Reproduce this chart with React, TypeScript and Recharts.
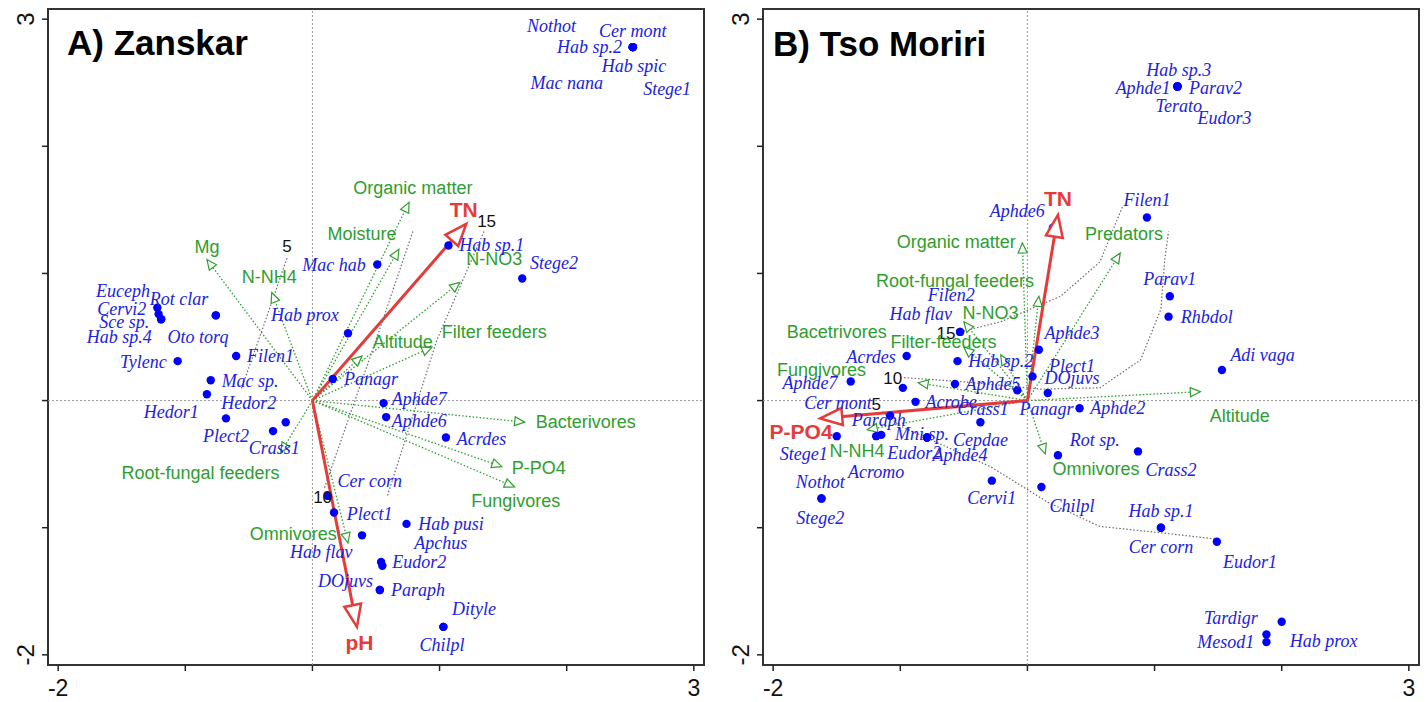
import React from 'react';
import { ScatterChart, Scatter, XAxis, YAxis, ReferenceLine, ReferenceArea } from 'recharts';

// ---------- shared axis setup ----------
const DOMAIN: [number, number] = [-2.08, 3.08];
const AXIS_TICKS = [-2, -1, 0, 1, 2, 3];
const LABELLED_TICKS = [-2, 3];
const TITLES = ['A) Zanskar', 'B) Tso Moriri'];

type Sp = { name: string; x: number; y: number; lx: number; ly: number };
type Pt = { x: number; y: number };

// ---------- Panel A: Zanskar ----------
const zanskarSpecies: Sp[] = [
  { name: 'Nothot', x: 2.52, y: 2.78, lx: 1.88, ly: 2.95 },
  { name: 'Cer mont', x: 2.52, y: 2.78, lx: 2.52, ly: 2.91 },
  { name: 'Hab sp.2', x: 2.52, y: 2.78, lx: 2.18, ly: 2.78 },
  { name: 'Hab spic', x: 2.52, y: 2.78, lx: 2.53, ly: 2.63 },
  { name: 'Mac nana', x: 2.52, y: 2.78, lx: 2.0, ly: 2.5 },
  { name: 'Stege1', x: 2.52, y: 2.78, lx: 2.79, ly: 2.45 },
  { name: 'Hab sp.1', x: 1.07, y: 1.22, lx: 1.41, ly: 1.22 },
  { name: 'Stege2', x: 1.65, y: 0.96, lx: 1.9, ly: 1.08 },
  { name: 'Mac hab', x: 0.51, y: 1.07, lx: 0.17, ly: 1.07 },
  { name: 'Hab prox', x: 0.28, y: 0.53, lx: -0.06, ly: 0.67 },
  { name: 'Panagr', x: 0.16, y: 0.17, lx: 0.46, ly: 0.17 },
  { name: 'Aphde7', x: 0.56, y: -0.02, lx: 0.84, ly: 0.01 },
  { name: 'Aphde6', x: 0.58, y: -0.13, lx: 0.84, ly: -0.16 },
  { name: 'Acrdes', x: 1.05, y: -0.29, lx: 1.33, ly: -0.3 },
  { name: 'Cer corn', x: 0.12, y: -0.75, lx: 0.45, ly: -0.63 },
  { name: 'Plect1', x: 0.17, y: -0.88, lx: 0.45, ly: -0.89 },
  { name: 'Hab flav', x: 0.39, y: -1.06, lx: 0.07, ly: -1.19 },
  { name: 'Hab pusi', x: 0.74, y: -0.97, lx: 1.09, ly: -0.97 },
  { name: 'Apchus', x: 0.54, y: -1.27, lx: 1.01, ly: -1.12 },
  { name: 'Eudor2', x: 0.55, y: -1.3, lx: 0.84, ly: -1.27 },
  { name: 'DOjuvs', x: 0.53, y: -1.49, lx: 0.26, ly: -1.42 },
  { name: 'Paraph', x: 0.53, y: -1.49, lx: 0.83, ly: -1.49 },
  { name: 'Dityle', x: 1.03, y: -1.78, lx: 1.27, ly: -1.64 },
  { name: 'Chilpl', x: 1.03, y: -1.78, lx: 1.02, ly: -1.92 },
  { name: 'Euceph', x: -1.22, y: 0.73, lx: -1.49, ly: 0.86 },
  { name: 'Cervi2', x: -1.21, y: 0.68, lx: -1.5, ly: 0.72 },
  { name: 'Sce sp.', x: -1.19, y: 0.64, lx: -1.48, ly: 0.62 },
  { name: 'Hab sp.4', x: -1.19, y: 0.64, lx: -1.52, ly: 0.5 },
  { name: 'Rot clar', x: -0.76, y: 0.67, lx: -1.05, ly: 0.8 },
  { name: 'Oto torq', x: -0.76, y: 0.67, lx: -0.9, ly: 0.5 },
  { name: 'Tylenc', x: -1.06, y: 0.31, lx: -1.33, ly: 0.3 },
  { name: 'Filen1', x: -0.6, y: 0.35, lx: -0.33, ly: 0.35 },
  { name: 'Mac sp.', x: -0.8, y: 0.16, lx: -0.49, ly: 0.15 },
  { name: 'Hedor1', x: -0.83, y: 0.05, lx: -1.11, ly: -0.09 },
  { name: 'Hedor2', x: -0.68, y: -0.14, lx: -0.5, ly: -0.02 },
  { name: 'Plect2', x: -0.31, y: -0.24, lx: -0.68, ly: -0.28 },
  { name: 'Crass1', x: -0.21, y: -0.17, lx: -0.3, ly: -0.37 },
];

const zanskarEnv: Sp[] = [
  { name: 'Mg', x: -0.83, y: 1.11, lx: -0.83, ly: 1.21 },
  { name: 'N-NH4', x: -0.32, y: 0.85, lx: -0.34, ly: 0.97 },
  { name: 'Moisture', x: 0.68, y: 1.19, lx: 0.39, ly: 1.31 },
  { name: 'Organic matter', x: 0.76, y: 1.56, lx: 0.79, ly: 1.67 },
  { name: 'N-NO3', x: 1.16, y: 0.93, lx: 1.43, ly: 1.11 },
  { name: 'Filter feeders', x: 0.94, y: 0.42, lx: 1.43, ly: 0.54 },
  { name: 'Altitude', x: 0.39, y: 0.35, lx: 0.71, ly: 0.46 },
  { name: 'Bacterivores', x: 1.67, y: -0.17, lx: 2.15, ly: -0.17 },
  { name: 'P-PO4', x: 1.49, y: -0.52, lx: 1.78, ly: -0.53 },
  { name: 'Fungivores', x: 1.59, y: -0.68, lx: 1.6, ly: -0.79 },
  { name: 'Omnivores', x: 0.28, y: -1.12, lx: -0.15, ly: -1.05 },
  { name: 'Root-fungal feeders', x: -0.25, y: -0.41, lx: -0.88, ly: -0.57 },
];

const zanskarKey: Sp[] = [
  { name: 'TN', x: 1.21, y: 1.39, lx: 1.19, ly: 1.5 },
  { name: 'pH', x: 0.35, y: -1.78, lx: 0.37, ly: -1.9 },
];

const zanskarIso5: Pt[] = [
  { x: -0.2, y: 1.12 },
  { x: -0.38, y: 0.6 },
  { x: -0.56, y: 0.09 },
];
const zanskarIso10: Pt[] = [
  { x: 0.79, y: 1.33 },
  { x: 0.45, y: 0.33 },
  { x: 0.09, y: -0.7 },
];
const zanskarIso15: Pt[] = [
  { x: 1.35, y: 1.33 },
  { x: 1.21, y: 1.01 },
  { x: 0.98, y: 0.48 },
  { x: 0.59, y: -0.75 },
];
const zanskarIsoLabels = [
  { name: '5', x: -0.2, y: 1.21 },
  { name: '10', x: 0.08, y: -0.76 },
  { name: '15', x: 1.37, y: 1.41 },
];

// ---------- Panel B: Tso Moriri ----------
const tsoSpecies: Sp[] = [
  { name: 'Hab sp.3', x: 1.18, y: 2.47, lx: 1.19, ly: 2.6 },
  { name: 'Aphde1', x: 1.18, y: 2.47, lx: 0.91, ly: 2.46 },
  { name: 'Parav2', x: 1.18, y: 2.47, lx: 1.48, ly: 2.46 },
  { name: 'Terato', x: 1.18, y: 2.47, lx: 1.19, ly: 2.32 },
  { name: 'Eudor3', x: 1.18, y: 2.47, lx: 1.55, ly: 2.22 },
  { name: 'Filen1', x: 0.94, y: 1.44, lx: 0.94, ly: 1.58 },
  { name: 'Parav1', x: 1.12, y: 0.82, lx: 1.12, ly: 0.96 },
  { name: 'Rhbdol', x: 1.11, y: 0.66, lx: 1.41, ly: 0.66 },
  { name: 'Adi vaga', x: 1.53, y: 0.24, lx: 1.85, ly: 0.36 },
  { name: 'Aphde2', x: 0.41, y: -0.06, lx: 0.71, ly: -0.06 },
  { name: 'Rot sp.', x: 0.24, y: -0.43, lx: 0.53, ly: -0.31 },
  { name: 'Crass2', x: 0.87, y: -0.4, lx: 1.13, ly: -0.55 },
  { name: 'Chilpl', x: 0.11, y: -0.68, lx: 0.35, ly: -0.83 },
  { name: 'Hab sp.1', x: 1.05, y: -1.0, lx: 1.05, ly: -0.87 },
  { name: 'Cer corn', x: 1.05, y: -1.0, lx: 1.05, ly: -1.15 },
  { name: 'Eudor1', x: 1.49, y: -1.11, lx: 1.75, ly: -1.27 },
  { name: 'Tardigr', x: 2.0, y: -1.74, lx: 1.6, ly: -1.71 },
  { name: 'Mesod1', x: 1.88, y: -1.84, lx: 1.56, ly: -1.9 },
  { name: 'Hab prox', x: 1.88, y: -1.9, lx: 2.33, ly: -1.89 },
  { name: 'Aphde3', x: 0.09, y: 0.4, lx: 0.35, ly: 0.53 },
  { name: 'Plect1', x: 0.04, y: 0.19, lx: 0.35, ly: 0.27 },
  { name: 'DOjuvs', x: 0.16, y: 0.06, lx: 0.35, ly: 0.18 },
  { name: 'Panagr', x: -0.08, y: 0.08, lx: 0.15, ly: -0.07 },
  { name: 'Aphde5', x: -0.57, y: 0.13, lx: -0.27, ly: 0.13 },
  { name: 'Hab sp.2', x: -0.55, y: 0.31, lx: -0.21, ly: 0.31 },
  { name: 'Crass1', x: -0.37, y: -0.17, lx: -0.35, ly: -0.07 },
  { name: 'Acrobe', x: -0.88, y: -0.01, lx: -0.6, ly: -0.01 },
  { name: 'Cepdae', x: -0.79, y: -0.29, lx: -0.37, ly: -0.31 },
  { name: 'Mni sp.', x: -0.79, y: -0.29, lx: -0.83, ly: -0.26 },
  { name: 'Aphde4', x: -0.79, y: -0.29, lx: -0.53, ly: -0.43 },
  { name: 'Cervi1', x: -0.28, y: -0.63, lx: -0.28, ly: -0.77 },
  { name: 'Eudor2', x: -1.19, y: -0.28, lx: -0.89, ly: -0.41 },
  { name: 'Acrdes', x: -0.95, y: 0.35, lx: -1.23, ly: 0.34 },
  { name: 'Aphde7', x: -1.39, y: 0.15, lx: -1.71, ly: 0.14 },
  { name: 'Aphde6', x: 0.2, y: 1.36, lx: -0.08, ly: 1.49 },
  { name: 'Filen2', x: -0.53, y: 0.54, lx: -0.6, ly: 0.83 },
  { name: 'Hab flav', x: -0.53, y: 0.54, lx: -0.84, ly: 0.68 },
  { name: 'Cer mont', x: -0.98, y: 0.1, lx: -1.49, ly: -0.02 },
  { name: 'Paraph', x: -1.08, y: -0.12, lx: -1.17, ly: -0.15 },
  { name: 'Stege1', x: -1.5, y: -0.28, lx: -1.76, ly: -0.42 },
  { name: 'Acromo', x: -1.15, y: -0.27, lx: -1.19, ly: -0.56 },
  { name: 'Nothot', x: -1.62, y: -0.77, lx: -1.63, ly: -0.64 },
  { name: 'Stege2', x: -1.62, y: -0.77, lx: -1.63, ly: -0.92 },
];

const tsoEnv: Sp[] = [
  { name: 'Organic matter', x: -0.04, y: 1.24, lx: -0.56, ly: 1.25 },
  { name: 'Root-fungal feeders', x: 0.09, y: 0.82, lx: -0.57, ly: 0.94 },
  { name: 'N-NO3', x: -0.5, y: 0.62, lx: -0.29, ly: 0.69 },
  { name: 'Filter-feeders', x: -0.21, y: 0.36, lx: -0.66, ly: 0.46 },
  { name: 'Bacetrivores', x: -0.5, y: 0.42, lx: -1.5, ly: 0.54 },
  { name: 'Fungivores', x: -0.86, y: 0.14, lx: -1.62, ly: 0.24 },
  { name: 'N-NH4', x: -1.26, y: -0.23, lx: -1.34, ly: -0.4 },
  { name: 'Omnivores', x: 0.14, y: -0.42, lx: 0.54, ly: -0.54 },
  { name: 'Altitude', x: 1.36, y: 0.07, lx: 1.67, ly: -0.12 },
  { name: 'Predators', x: 0.73, y: 1.16, lx: 0.76, ly: 1.31 },
];

const tsoKey: Sp[] = [
  { name: 'TN', x: 0.24, y: 1.46, lx: 0.24, ly: 1.59 },
  { name: 'P-PO4', x: -1.63, y: -0.14, lx: -1.78, ly: -0.24 },
];

const tsoIso15: Pt[] = [
  { x: -0.53, y: 0.54 },
  { x: -0.21, y: 0.62 },
  { x: 0.26, y: 0.82 },
  { x: 0.57, y: 1.09 },
  { x: 0.75, y: 1.53 },
];
const tsoIso10: Pt[] = [
  { x: -0.97, y: 0.18 },
  { x: -0.53, y: 0.15 },
  { x: 0.1, y: 0.09 },
  { x: 0.57, y: 0.1 },
  { x: 0.89, y: 0.32 },
  { x: 1.05, y: 0.72 },
  { x: 1.08, y: 1.11 },
  { x: 1.11, y: 1.33 },
];
const tsoIso5: Pt[] = [
  { x: -1.14, y: -0.09 },
  { x: -1.0, y: -0.2 },
  { x: -0.29, y: -0.52 },
  { x: 0.16, y: -0.8 },
  { x: 0.57, y: -0.99 },
  { x: 1.05, y: -1.04 },
  { x: 1.49, y: -1.09 },
];
const tsoIsoLabels = [
  { name: '15', x: -0.64, y: 0.53 },
  { name: '10', x: -1.06, y: 0.17 },
  { name: '5', x: -1.19, y: -0.03 },
];

// ---------- styles ----------
const SANS = "'Liberation Sans', Arial, Helvetica, sans-serif";
const SERIF = "'Liberation Serif', 'Times New Roman', serif";
const BLUE_DOT = '#0000ff';
const BLUE_TEXT = '#2222dd';
const GREEN = '#2e9e2e';
const RED = '#e53b3b';
const ISO_GRAY = '#6a6a6a';
const PLOT_PX = 656;
const PX_PER_UNIT = PLOT_PX / (DOMAIN[1] - DOMAIN[0]);

const headPolygon = (cx: number, cy: number, dx: number, dy: number, len: number, half: number) => {
  const n = Math.hypot(dx, dy) || 1;
  const ux = dx / n;
  const uy = -dy / n;
  const bx = cx - len * ux;
  const by = cy - len * uy;
  const px = -uy;
  const py = ux;
  return `${cx},${cy} ${bx + half * px},${by + half * py} ${bx - half * px},${by - half * py}`;
};

const shaftEnd = (s: Sp, headLen: number) => {
  const lenPx = Math.hypot(s.x, s.y) * PX_PER_UNIT;
  const k = Math.max(0, 1 - headLen / lenPx);
  return { x: s.x * k, y: s.y * k };
};

const XTick = (props: any) => {
  const { x, y, payload } = props;
  if (!LABELLED_TICKS.includes(payload.value)) return <g />;
  return (
    <text x={x} y={y + 15} textAnchor="middle" dominantBaseline="central" fontFamily={SANS} fontSize={23} fill="#111">
      {String(payload.value)}
    </text>
  );
};

const YTick = (props: any) => {
  const { x, y, payload } = props;
  if (!LABELLED_TICKS.includes(payload.value)) return <g />;
  const tx = x - 14;
  return (
    <text
      x={tx}
      y={y}
      textAnchor="middle"
      dominantBaseline="central"
      fontFamily={SANS}
      fontSize={24}
      fill="#111"
      transform={`rotate(-90, ${tx}, ${y})`}
    >
      {String(payload.value)}
    </text>
  );
};

const Dot = (p: any) => <circle cx={p.cx} cy={p.cy} r={4.2} fill={BLUE_DOT} />;
const SpeciesText = (p: any) => (
  <text x={p.cx} y={p.cy} textAnchor="middle" dominantBaseline="central" fontFamily={SERIF} fontStyle="italic" fontSize={18} fill={BLUE_TEXT}>
    {p.payload.name}
  </text>
);
const EnvText = (p: any) => (
  <text x={p.cx} y={p.cy} textAnchor="middle" dominantBaseline="central" fontFamily={SANS} fontSize={18} fill={GREEN}>
    {p.payload.name}
  </text>
);
const KeyText = (p: any) => (
  <text x={p.cx} y={p.cy} textAnchor="middle" dominantBaseline="central" fontFamily={SANS} fontWeight="bold" fontSize={21} fill={RED}>
    {p.payload.name}
  </text>
);
const IsoText = (p: any) => (
  <text x={p.cx} y={p.cy} textAnchor="middle" dominantBaseline="central" fontFamily={SANS} fontSize={17} fill="#111">
    {p.payload.name}
  </text>
);
const EnvHead = (p: any) => (
  <polygon points={headPolygon(p.cx, p.cy, p.payload.x, p.payload.y, 10, 4.5)} fill="#fff" stroke={GREEN} strokeWidth={1.2} />
);
const KeyHead = (p: any) => (
  <polygon points={headPolygon(p.cx, p.cy, p.payload.x, p.payload.y, 22, 8.5)} fill="#fff" stroke={RED} strokeWidth={2.5} />
);
const Empty = () => <g />;

type PanelProps = {
  left: number;
  yAxisWidth: number;
  marginRight: number;
  species: Sp[];
  env: Sp[];
  keys: Sp[];
  isolines: Pt[][];
  isoLabels: { name: string; x: number; y: number }[];
};

const Panel = ({ left, yAxisWidth, marginRight, species, env, keys, isolines, isoLabels }: PanelProps) => {
  const speciesLabels = species.map((s) => ({ name: s.name, x: s.lx, y: s.ly }));
  const envLabels = env.map((s) => ({ name: s.name, x: s.lx, y: s.ly }));
  const keyLabels = keys.map((s) => ({ name: s.name, x: s.lx, y: s.ly }));
  return (
    <div style={{ position: 'absolute', left, top: 0 }}>
      <ScatterChart width={714} height={702} margin={{ top: 9, right: marginRight, bottom: 0, left: 0 }}>
        <XAxis
          type="number"
          dataKey="x"
          domain={DOMAIN}
          ticks={AXIS_TICKS}
          interval={0}
          allowDataOverflow
          axisLine={false}
          tickLine={{ stroke: '#222', strokeWidth: 1.5 }}
          tickSize={6}
          height={37}
          tick={<XTick />}
        />
        <YAxis
          type="number"
          dataKey="y"
          domain={DOMAIN}
          ticks={AXIS_TICKS}
          interval={0}
          allowDataOverflow
          axisLine={false}
          tickLine={{ stroke: '#222', strokeWidth: 1.5 }}
          tickSize={6}
          width={yAxisWidth}
          tick={<YTick />}
        />
        <ReferenceLine x={0} stroke="#9a9a9a" strokeDasharray="2 2" strokeWidth={1} />
        <ReferenceLine y={0} stroke="#9a9a9a" strokeDasharray="2 2" strokeWidth={1} />
        {isolines.map((iso, i) => (
          <Scatter
            key={`iso${i}`}
            data={iso}
            line={{ stroke: ISO_GRAY, strokeWidth: 1.2, strokeDasharray: '1.5 2' }}
            lineType="joint"
            shape={Empty}
            isAnimationActive={false}
          />
        ))}
        {env.map((e) => (
          <ReferenceLine
            key={`env-${e.name}`}
            segment={[{ x: 0, y: 0 }, shaftEnd(e, 9)]}
            stroke={GREEN}
            strokeWidth={1.3}
            strokeDasharray="1.5 2"
            ifOverflow="visible"
          />
        ))}
        {keys.map((e) => (
          <ReferenceLine
            key={`key-${e.name}`}
            segment={[{ x: 0, y: 0 }, shaftEnd(e, 20)]}
            stroke={RED}
            strokeWidth={3}
            ifOverflow="visible"
          />
        ))}
        <Scatter data={env} shape={EnvHead} isAnimationActive={false} />
        <Scatter data={species} shape={Dot} isAnimationActive={false} />
        <Scatter data={keys} shape={KeyHead} isAnimationActive={false} />
        <Scatter data={isoLabels} shape={IsoText} isAnimationActive={false} />
        <Scatter data={envLabels} shape={EnvText} isAnimationActive={false} />
        <Scatter data={speciesLabels} shape={SpeciesText} isAnimationActive={false} />
        <Scatter data={keyLabels} shape={KeyText} isAnimationActive={false} />
        <ReferenceArea
          x1={DOMAIN[0]}
          x2={DOMAIN[1]}
          y1={DOMAIN[0]}
          y2={DOMAIN[1]}
          fill="none"
          fillOpacity={0}
          stroke="#333"
          strokeWidth={2}
          ifOverflow="visible"
        />
      </ScatterChart>
    </div>
  );
};

export default function App() {
  return (
    <div style={{ position: 'absolute', left: 0, top: 0, width: 1428, height: 702, background: '#fff' }}>
      <Panel
        left={0}
        yAxisWidth={48}
        marginRight={10}
        species={zanskarSpecies}
        env={zanskarEnv}
        keys={zanskarKey}
        isolines={[zanskarIso5, zanskarIso10, zanskarIso15]}
        isoLabels={zanskarIsoLabels}
      />
      <Panel
        left={714}
        yAxisWidth={49}
        marginRight={9}
        species={tsoSpecies}
        env={tsoEnv}
        keys={tsoKey}
        isolines={[tsoIso15, tsoIso10, tsoIso5]}
        isoLabels={tsoIsoLabels}
      />
      <svg width={1428} height={702} style={{ position: 'absolute', left: 0, top: 0, pointerEvents: 'none' }}>
        <text x={67} y={55} fontFamily={SANS} fontWeight="bold" fontSize={35} fill="#000">
          {TITLES[0]}
        </text>
        <text x={773} y={56} fontFamily={SANS} fontWeight="bold" fontSize={35} fill="#000">
          {TITLES[1]}
        </text>
      </svg>
    </div>
  );
}
